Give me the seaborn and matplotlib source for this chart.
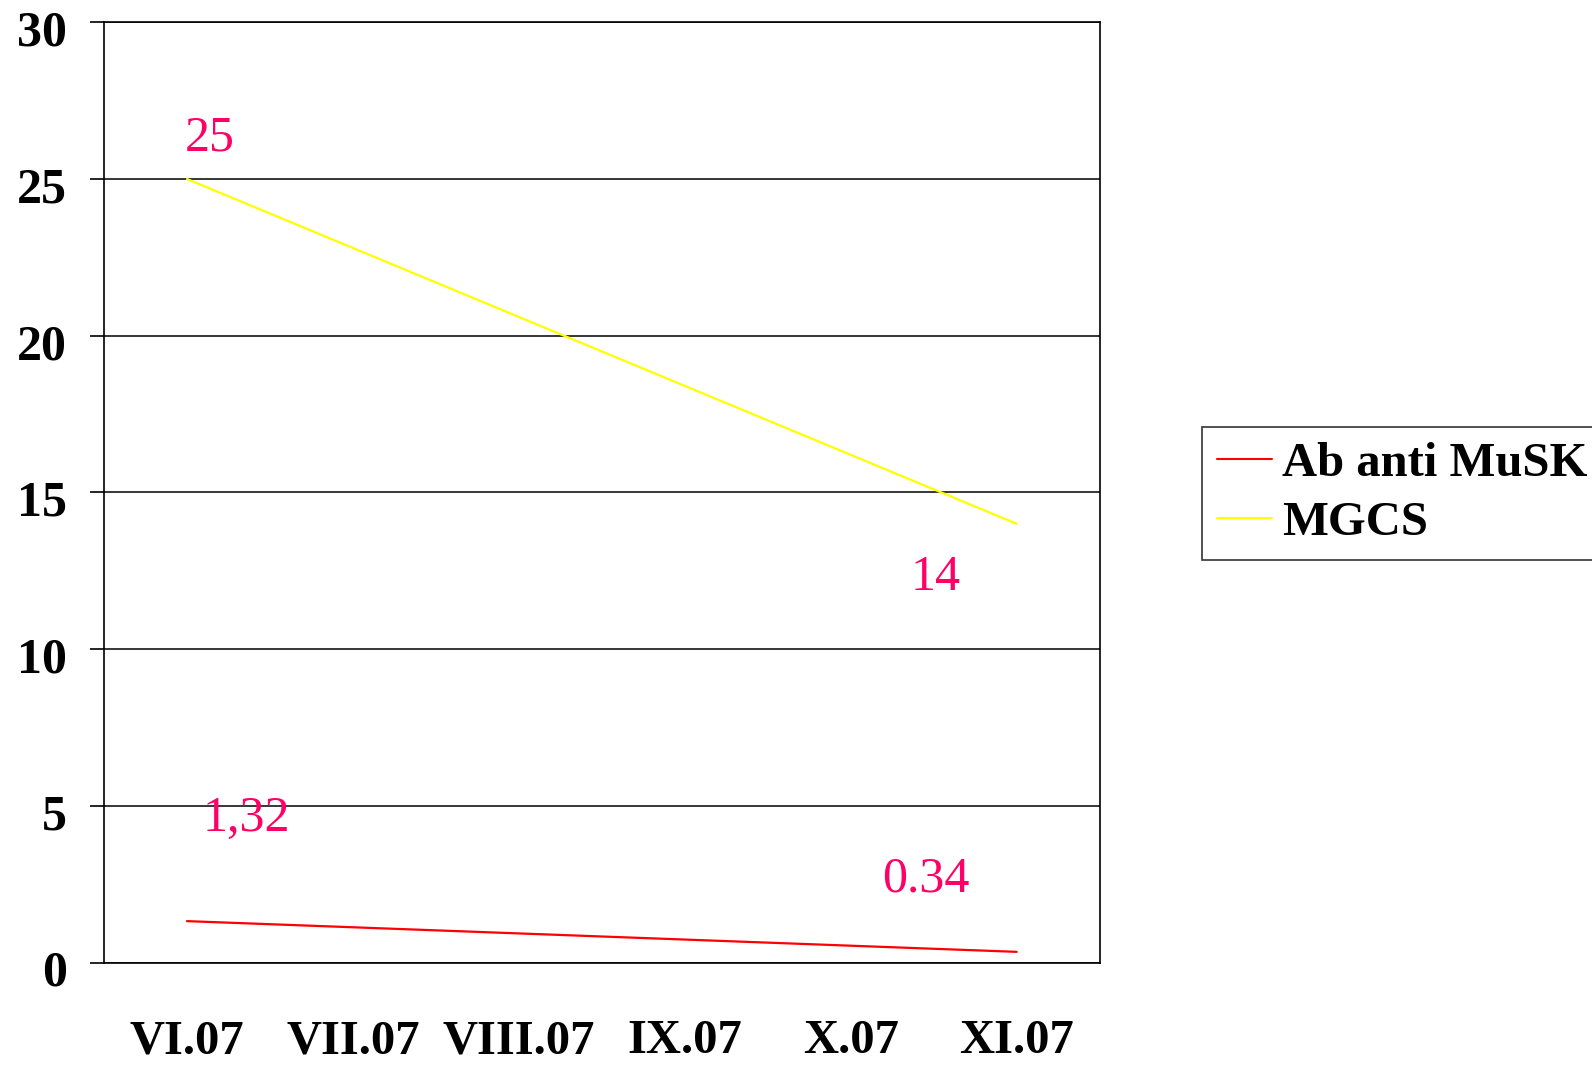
import numpy as np
import pandas as pd
import matplotlib
matplotlib.use("Agg")
import matplotlib.pyplot as plt
import matplotlib.transforms as mtransforms
from matplotlib.lines import Line2D
import seaborn as sns

# Monthly follow-up (only first and last visit measured)
months = ["VI.07", "VII.07", "VIII.07", "IX.07", "X.07", "XI.07"]
musk_values = [1.32, np.nan, np.nan, np.nan, np.nan, 0.34]
mgcs_values = [25, np.nan, np.nan, np.nan, np.nan, 14]
series_names = ["Ab anti MuSK", "MGCS"]
series_colors = ["#FF0000", "#FFFF00"]
label_texts = ["25", "14", "1,32", "0.34"]
y_ticks = [0, 5, 10, 15, 20, 25, 30]

rows = []
for name, vals in zip(series_names, [musk_values, mgcs_values]):
    for i, v in enumerate(vals):
        if not np.isnan(v):
            rows.append({"pos": i, "value": v, "series": name})
df = pd.DataFrame(rows)

sns.set_theme(style="white")
plt.rcParams["font.family"] = ["Liberation Serif", "DejaVu Serif"]
plt.rcParams["text.color"] = "black"
plt.rcParams["xtick.color"] = "black"
plt.rcParams["ytick.color"] = "black"
plt.rcParams["axes.labelcolor"] = "black"

fig = plt.figure(figsize=(15.92, 10.67), dpi=100)
ax = fig.add_axes([104 / 1592, 1 - 962.5 / 1067, (1099.6 - 104) / 1592, (962.5 - 22.3) / 1067])

sns.lineplot(data=df, x="pos", y="value", hue="series", hue_order=series_names,
             palette=series_colors, linewidth=1.6, ax=ax, legend=False)

ax.set_xlim(-0.5, len(months) - 0.5)
ax.set_ylim(0, 30)
ax.set_xlabel("")
ax.set_ylabel("")

# category labels at centres, tick marks on category boundaries
ax.set_xticks(range(len(months)))
ax.set_xticklabels(months, fontsize=35, fontweight="bold", color="black")
ax.set_xticks(np.arange(-0.5, len(months), 1.0), minor=True)
ax.tick_params(axis="x", which="major", length=0, pad=41)
ax.tick_params(axis="x", which="minor", length=13, width=1.2, color="black", direction="out")

ax.set_yticks(y_ticks)
ax.set_yticklabels([str(t) for t in y_ticks], fontsize=36, fontweight="bold", color="black")
ax.tick_params(axis="y", which="major", length=10, width=1.2, color="black",
               direction="out", pad=17, left=True)
shift = mtransforms.ScaledTranslation(0, -6 / 100, fig.dpi_scale_trans)
for lab in ax.get_yticklabels():
    lab.set_transform(lab.get_transform() + shift)

ax.grid(axis="y", color="black", linewidth=1.1)
ax.grid(axis="x", visible=False)
for sp in ax.spines.values():
    sp.set_color("black")
    sp.set_linewidth(1.2)
    sp.set_visible(True)

# value labels
label_pos = [(0.135, 25.9), (4.51, 11.9), (0.358, 4.21), (4.45, 2.27)]
for txt, (x, y) in zip(label_texts, label_pos):
    ax.text(x, y, txt, color="#FF0066", fontsize=36, ha="center", va="baseline")

handles = [Line2D([0], [0], color=c, lw=1.5) for c in series_colors]
leg = fig.legend(handles, series_names, loc="upper left",
                 bbox_to_anchor=(1202 / 1592, 1 - 427 / 1067),
                 prop={"family": "Liberation Serif", "weight": "bold", "size": 35},
                 frameon=True, fancybox=False, edgecolor="black",
                 handlelength=1.15, handletextpad=0.2, borderpad=0.3,
                 labelspacing=0.32, borderaxespad=0)
leg.get_frame().set_linewidth(1.2)
for t in leg.get_texts():
    t.set_color("black")

fig.savefig("out.png", dpi=100)
